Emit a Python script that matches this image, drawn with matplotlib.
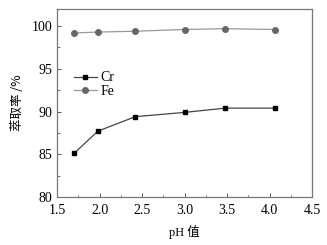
import matplotlib
matplotlib.use("Agg")
import matplotlib.pyplot as plt
from matplotlib.ticker import MultipleLocator

ph = [1.70, 1.98, 2.42, 3.00, 3.48, 4.06]
cr = [85.1, 87.7, 89.4, 89.9, 90.4, 90.4]
fe = [99.2, 99.3, 99.4, 99.6, 99.7, 99.6]
xticks = [1.5, 2.0, 2.5, 3.0, 3.5, 4.0, 4.5]
yticks = [80, 85, 90, 95, 100]

plt.rcParams['font.family'] = ['Liberation Serif', 'Noto Sans CJK SC']
fig = plt.figure(figsize=(3.27, 2.45), dpi=100)
ax = fig.add_axes([57/327, 1-197/245, (312-57)/327, (197-9)/245])

ax.plot(ph, cr, color='#444444', lw=0.9, marker='s', ms=3.5, mfc='black', mec='black', label='Cr')
ax.plot(ph, fe, color='#999999', lw=0.9, marker='o', ms=4, mfc='#666666', mec='#666666', label='Fe')

ax.set_xlim(1.5, 4.5)
ax.set_ylim(80, 102)
ax.set_xticks(xticks)
ax.set_yticks(yticks)
ax.set_xticklabels([f"{v:.1f}" for v in xticks])
ax.xaxis.set_minor_locator(MultipleLocator(0.25))
ax.yaxis.set_minor_locator(MultipleLocator(2.5))
ax.tick_params(which='both', direction='in', labelsize=10, color='#555555', top=False, right=False)
ax.tick_params(which='major', length=3, width=0.7)
ax.tick_params(which='minor', length=1.8, width=0.6)
ax.tick_params(axis='x', pad=5)
for s in ax.spines.values():
    s.set_color('#777777')
    s.set_linewidth(0.9)

ax.set_xlabel('pH 值', fontsize=9, labelpad=6, family=['Liberation Serif', 'Noto Sans CJK SC'])
ax.set_ylabel('萃取率 /%', fontsize=9, labelpad=5, family=['Noto Sans CJK SC', 'Liberation Serif'])

ax.legend(loc='upper left', bbox_to_anchor=(0.03, 0.72), frameon=False, fontsize=10,
          handlelength=1.6, handletextpad=0.3, labelspacing=0.05, borderpad=0.2)

fig.savefig('out.png', dpi=100)
